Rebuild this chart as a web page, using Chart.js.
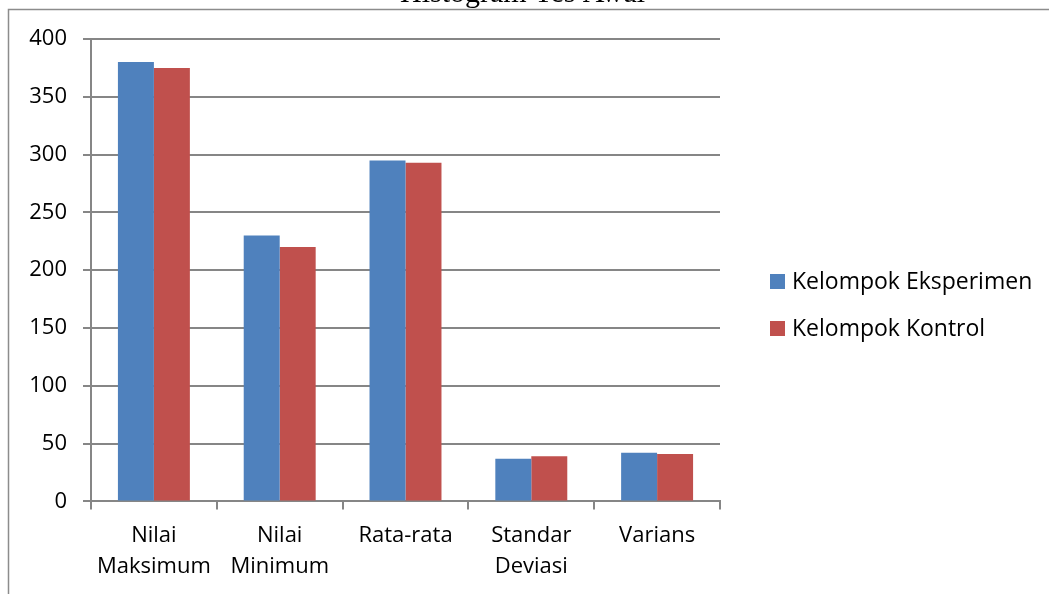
<!DOCTYPE html>
<html lang="id">
<head>
    <meta charset="UTF-8">
    <title>Histogram Tes Awal</title>
    <script src="https://cdn.jsdelivr.net/npm/chart.js"></script>
    <style>
        html, body { margin: 0; padding: 0; background: #fff; }
        #wrap { width: 1049px; height: 594px; }
    </style>
</head>
<body>
    <div id="wrap"><canvas id="histChart"></canvas></div>

    <script>
        const categories = [['Nilai', 'Maksimum'], ['Nilai', 'Minimum'], 'Rata-rata', ['Standar', 'Deviasi'], 'Varians'];
        const eksperimen = [380, 230, 295, 37, 42];
        const kontrol = [375, 220, 293, 39, 41];
        const yTicks = [0, 50, 100, 150, 200, 250, 300, 350, 400];

        const fontFamily = '"Open Sans", sans-serif';
        const gridColor = '#868686';

        // outer frame + title (title sits mostly above the visible crop)
        const framePlugin = {
            id: 'frame',
            beforeDraw(chart) {
                const ctx = chart.ctx;
                ctx.save();
                ctx.fillStyle = '#ffffff';
                ctx.fillRect(0, 0, chart.width, chart.height);
                ctx.strokeStyle = '#8c8c8c';
                ctx.lineWidth = 1.5;
                ctx.strokeRect(8.5, 9.5, chart.width + 50, chart.height + 50);
                ctx.fillStyle = '#000';
                ctx.font = '30px "Liberation Serif", serif';
                ctx.textAlign = 'left';
                ctx.textBaseline = 'alphabetic';
                ctx.fillText('Histogram Tes Awal', 400, 2);
                ctx.restore();
            }
        };

        // legend on the right, the built-in one gets squeezed too narrow here
        const sideLegend = {
            id: 'sideLegend',
            afterDraw(chart) {
                const ctx = chart.ctx;
                const area = chart.chartArea;
                const boxX = area.right + 50;
                ctx.save();
                ctx.font = '23px ' + fontFamily;
                ctx.textAlign = 'left';
                ctx.textBaseline = 'middle';
                chart.data.datasets.forEach((ds, i) => {
                    const cy = area.top + 242.5 + i * 47;
                    ctx.fillStyle = ds.backgroundColor;
                    ctx.fillRect(boxX, cy - 7.5, 15, 15);
                    ctx.fillStyle = '#000';
                    ctx.fillText(ds.label, boxX + 22, cy + 1);
                });
                ctx.restore();
            }
        };

        const ctx = document.getElementById('histChart').getContext('2d');
        new Chart(ctx, {
            type: 'bar',
            data: {
                labels: categories,
                datasets: [{
                    label: 'Kelompok Eksperimen',
                    data: eksperimen,
                    backgroundColor: '#4F81BD',
                    borderWidth: 0,
                    categoryPercentage: 0.572,
                    barPercentage: 1
                }, {
                    label: 'Kelompok Kontrol',
                    data: kontrol,
                    backgroundColor: '#C0504D',
                    borderWidth: 0,
                    categoryPercentage: 0.572,
                    barPercentage: 1
                }]
            },
            options: {
                responsive: true,
                maintainAspectRatio: false,
                animation: false,
                layout: {
                    padding: { top: 39, left: 10, right: 329, bottom: 1 }
                },
                plugins: {
                    title: { display: false },
                    tooltip: { enabled: false },
                    legend: { display: false }
                },
                scales: {
                    x: {
                        grid: {
                            drawOnChartArea: false,
                            drawTicks: true,
                            tickLength: 8,
                            color: gridColor,
                            lineWidth: 2
                        },
                        border: { color: gridColor, width: 2 },
                        ticks: {
                            color: '#000',
                            padding: 11,
                            maxRotation: 0,
                            autoSkip: false,
                            font: { family: fontFamily, size: 22, lineHeight: 1.4 }
                        }
                    },
                    y: {
                        min: 0,
                        max: 400,
                        afterBuildTicks(scale) {
                            scale.ticks = yTicks.map(v => ({ value: v }));
                        },
                        afterFit(scale) {
                            scale.width = 81;
                        },
                        grid: {
                            color: gridColor,
                            lineWidth: 2,
                            tickLength: 8
                        },
                        border: { color: gridColor, width: 2 },
                        ticks: {
                            color: '#000',
                            padding: 16,
                            font: { family: fontFamily, size: 22 }
                        }
                    }
                }
            },
            plugins: [framePlugin, sideLegend]
        });
    </script>
</body>
</html>
